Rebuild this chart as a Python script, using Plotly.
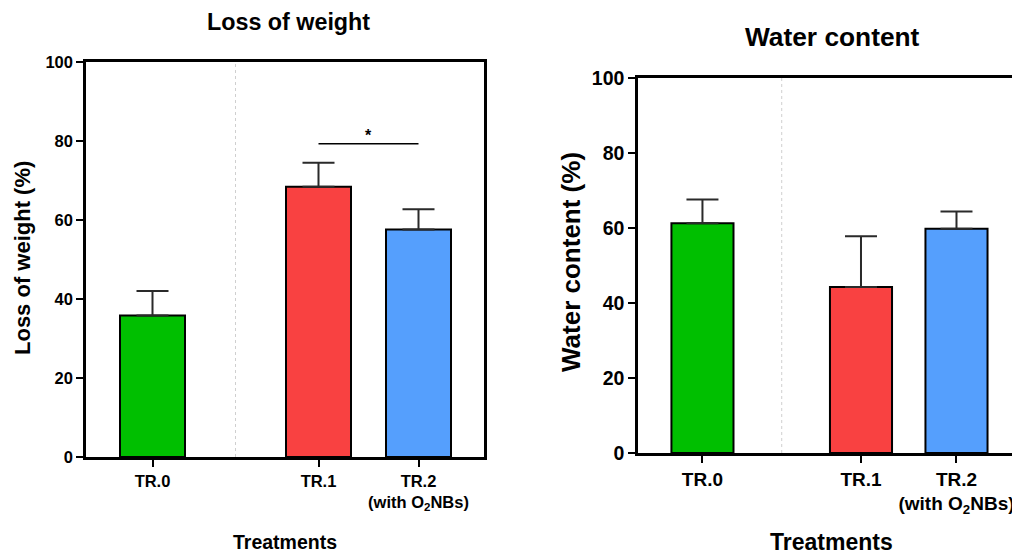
import plotly.graph_objects as go

# ---------------- data ----------------
categories = ["TR.0", "TR.1", "TR.2"]
tick_labels = ["TR.0", "TR.1", "TR.2<br>(with O<sub>2</sub>NBs)"]
x_pos = [0, 1.66, 2.66]
colors = ["#00BF00", "#F94141", "#559FFD"]

loss_mean = [35.8, 68.4, 57.6]
loss_err = [6.2, 6.1, 5.1]
water_mean = [61.3, 44.3, 59.8]
water_err = [6.3, 13.5, 4.6]

sig_level = 79.3        # significance bracket height (loss of weight)
sig_pair = [1, 2]       # TR.1 vs TR.2
sig_label = "*"

divider = 0.83          # dotted separator between control and treatments

FONT = "Arial, Liberation Sans, sans-serif"
PAGE_OFFSET = 8         # default body margin of the html page
W, H = 1020 - PAGE_OFFSET, 554 - PAGE_OFFSET

fig = go.Figure()

def add_bars(means, errs, xa, ya):
    fig.add_trace(go.Bar(
        x=x_pos, y=means, width=0.65,
        marker=dict(color=colors, line=dict(color="black", width=2)),
        error_y=dict(type="data", array=errs, arrayminus=[0] * len(errs),
                     symmetric=False, color="#2a2a2a", thickness=2, width=16),
        xaxis=xa, yaxis=ya, showlegend=False))

add_bars(loss_mean, loss_err, "x", "y")
add_bars(water_mean, water_err, "x2", "y2")

# panel geometry (screen pixels -> paper)
L = dict(x0=86, x1=484, y0=62, y1=457)
R = dict(x0=638, x1=1020, y0=78, y1=453)

def px(v):
    return (v - PAGE_OFFSET) / W

def py(v):
    return 1 - (v - PAGE_OFFSET) / H

common_x = dict(showgrid=False, zeroline=False, showline=True, linecolor="black",
                linewidth=2.5, ticks="outside", ticklen=7, tickwidth=2, tickcolor="black",
                tickvals=x_pos, ticktext=tick_labels, automargin=False)
common_y = dict(showgrid=False, zeroline=False, showline=True, linecolor="black",
                linewidth=2.5, ticks="outside", ticklen=7, tickwidth=2, tickcolor="black",
                range=[0, 100], tickvals=[0, 20, 40, 60, 80, 100], automargin=False)

fig.update_layout(
    width=W, height=H, margin=dict(l=0, r=0, t=0, b=0, autoexpand=False),
    paper_bgcolor="white", plot_bgcolor="white",
    font=dict(family=FONT, color="black"),
    xaxis=dict(common_x, domain=[px(L["x0"]), px(L["x1"])], range=[-0.665, 3.315],
               anchor="y", mirror=True,
               tickfont=dict(family=FONT, size=16.5, weight="bold", color="black")),
    yaxis=dict(common_y, domain=[py(L["y1"]), py(L["y0"])], anchor="x", mirror=True,
               tickfont=dict(family=FONT, size=16.5, weight="bold", color="black")),
    xaxis2=dict(common_x, domain=[px(R["x0"]), min(1, px(R["x1"]))], range=[-0.675, 3.325],
                anchor="y2", mirror=True,
                tickfont=dict(family=FONT, size=19, weight="bold", color="black")),
    yaxis2=dict(common_y, domain=[py(R["y1"]), py(R["y0"])], anchor="x2", mirror=False,
                tickfont=dict(family=FONT, size=19.5, weight="bold", color="black")),
)

# dotted separators
for xr, yr in (("x", "y domain"), ("x2", "y2 domain")):
    fig.add_shape(type="line", xref=xr, yref=yr, x0=divider, x1=divider, y0=0, y1=1,
                  line=dict(color="#cfcfcf", width=1, dash="dot"), layer="below")

# significance bracket
fig.add_shape(type="line", xref="x", yref="y",
              x0=x_pos[sig_pair[0]], x1=x_pos[sig_pair[1]], y0=sig_level, y1=sig_level,
              line=dict(color="black", width=1.5))
fig.add_annotation(xref="x", yref="y", x=(x_pos[sig_pair[0]] + x_pos[sig_pair[1]]) / 2,
                   y=sig_level, yanchor="bottom", text=sig_label, showarrow=False,
                   font=dict(family=FONT, size=16, weight="bold"), yshift=-2)

def text(x, y, s, size, angle=0):
    fig.add_annotation(xref="paper", yref="paper", x=px(x), y=py(y), text=s,
                       showarrow=False, xanchor="center", yanchor="middle", textangle=angle,
                       font=dict(family=FONT, size=size, weight="bold", color="black"))

# titles
text(288, 21.5, "Loss of weight", 23.3)
text(832, 37, "Water content", 26.3)
# y-axis titles
text(23, 258, "Loss of weight (%)", 22, -90)
text(571, 262, "Water content (%)", 26, -90)
# x-axis titles
text(285, 542, "Treatments", 19.5)
text(831, 542, "Treatments", 23)

fig.write_html("out.html")
